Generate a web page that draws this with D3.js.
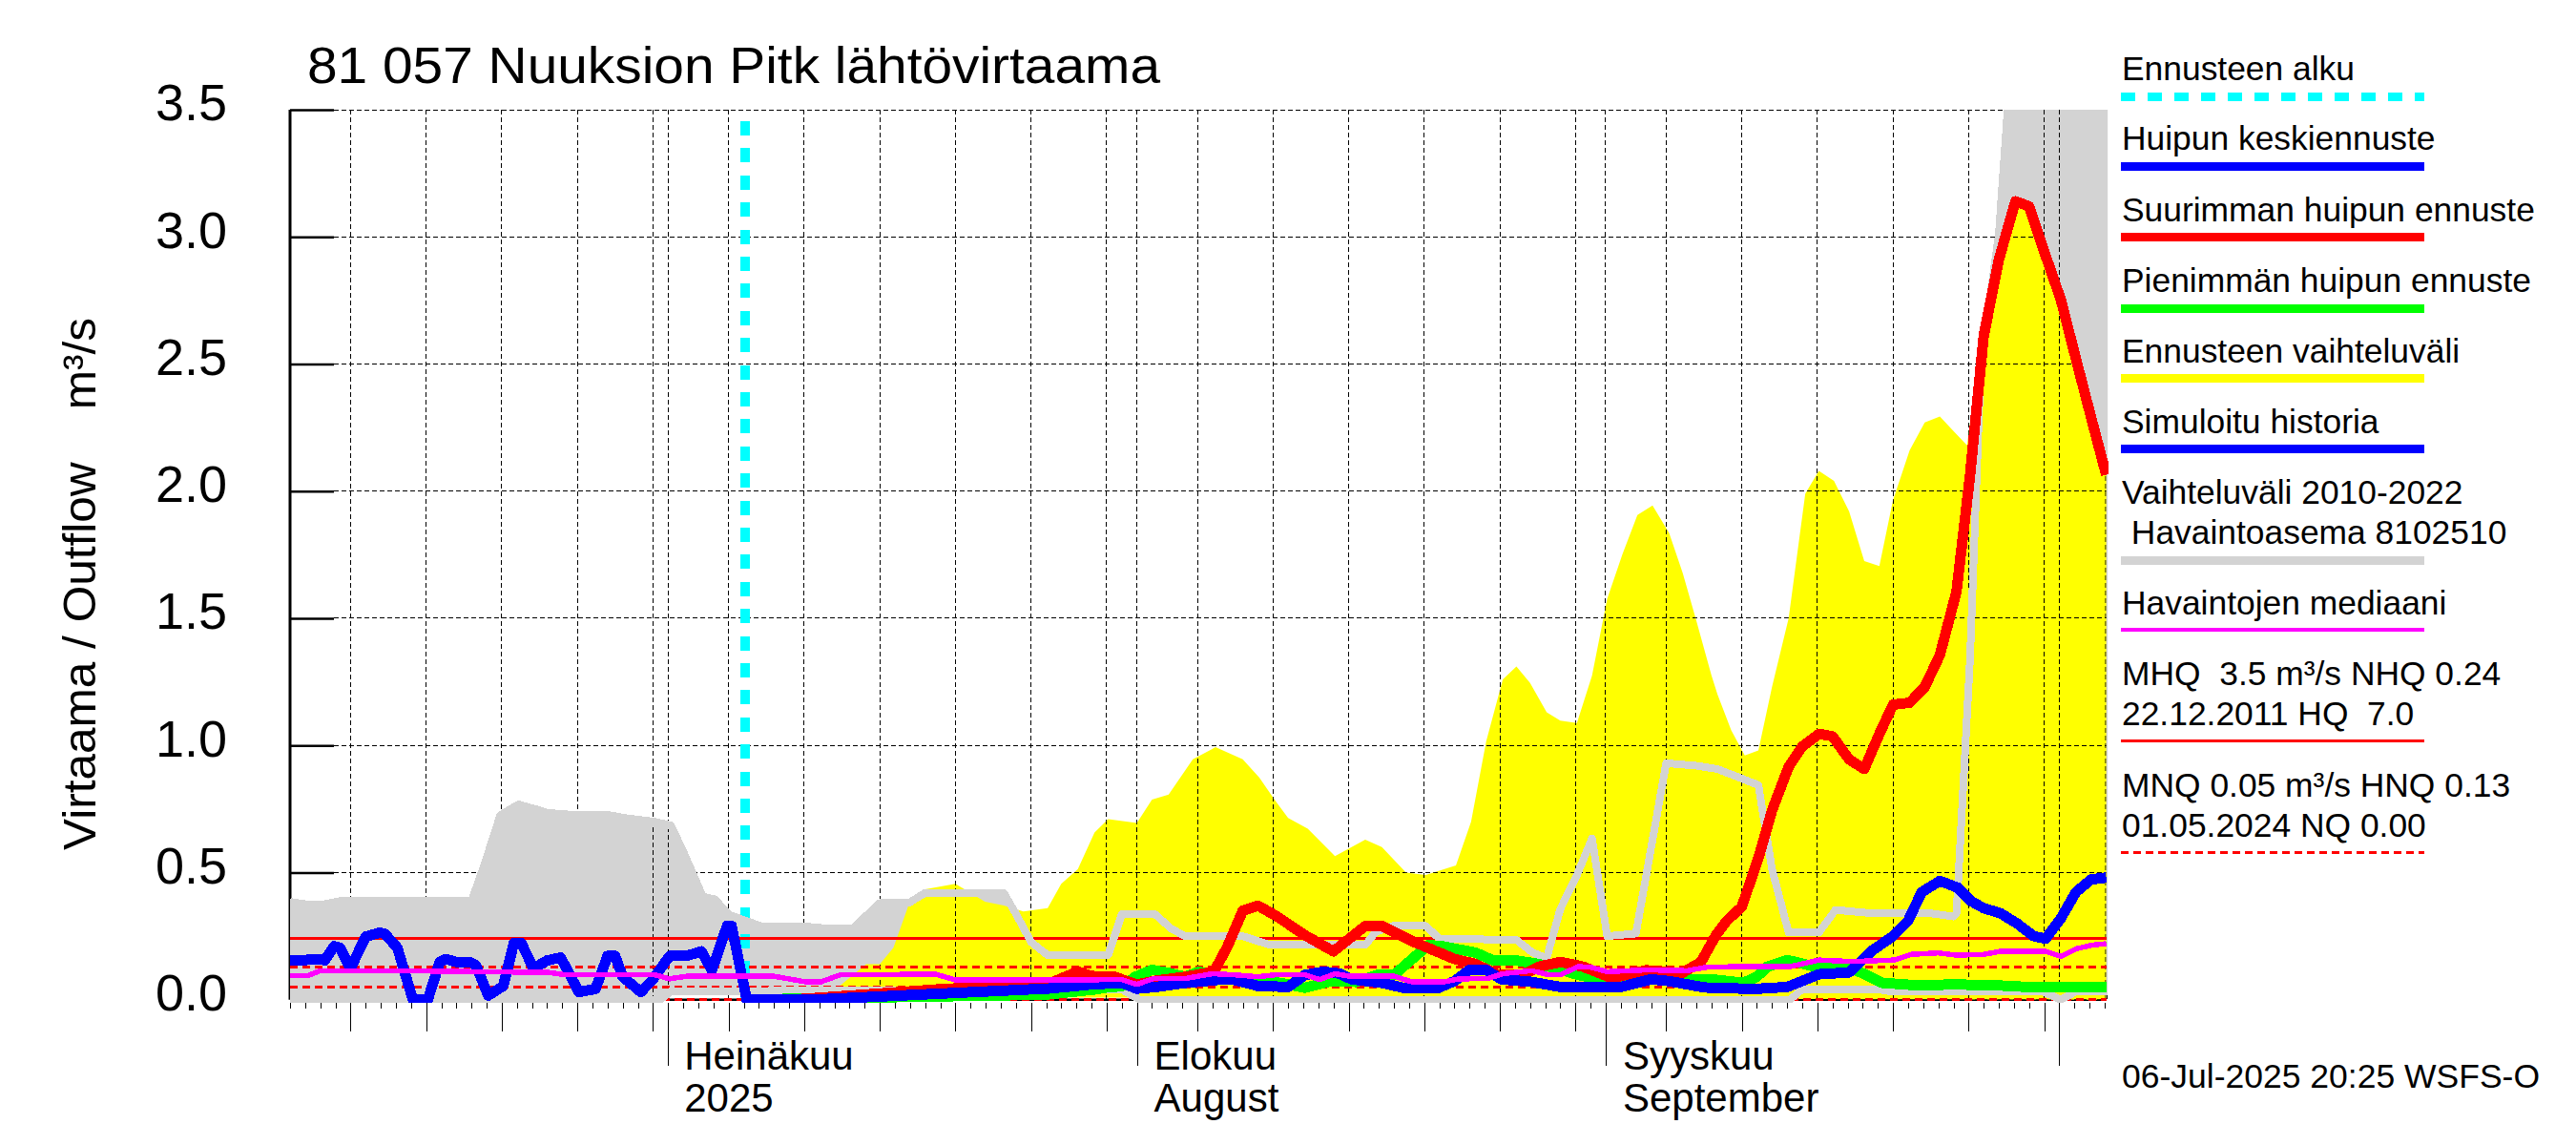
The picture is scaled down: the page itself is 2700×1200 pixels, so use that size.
<!DOCTYPE html>
<html>
<head>
<meta charset="utf-8">
<script src="https://cdnjs.cloudflare.com/ajax/libs/d3/7.8.5/d3.min.js"></script>
<style>
  body { margin: 0; background: white; }
  text { font-family: "Liberation Sans", Arial, sans-serif; fill: black; }
</style>
</head>
<body>
<script>
// days are counted from the first day on the axis (6 June 2025)
const firstDay = Date.UTC(2025, 5, 6);
const lastDay = Date.UTC(2025, 9, 4);

const yTicks = [0, 0.5, 1, 1.5, 2, 2.5, 3, 3.5];
const monthLabels = [
  ["Heinäkuu", "2025"],
  ["Elokuu", "August"],
  ["Syyskuu", "September"]
];
const monthDates = [Date.UTC(2025, 6, 1), Date.UTC(2025, 7, 1), Date.UTC(2025, 8, 1)];

const forecastStart = [30.1];
const nhq = [0.24];
const hnq = [0.13];
const mnq = [0.05];
const nq = [0];

const histMaxDays = [0,1.1,2.2,3.3,12,12.9,13.9,15.1,16.2,17,19.2,21.2,22.1,24.1,25.2,26.1,27.3,28.1,29,31.2,34.1,35.5,37.2,39,40.9,42,47.2,48.1,49,50.1,54.1,55,57.2,58.3,59.2,63,64.8,71.1,71.8,72.9,75.1,76,81.1,82.2,83.1,84,85.1,86.1,87.1,89,91,93,94.4,97.1,98,99.1,101.1,102.2,104.2,108.2,110,110.2,111.1,111.8,113,113.7,120.2];
const histMaxVals = [0.385,0.375,0.375,0.388,0.388,0.54,0.725,0.768,0.75,0.735,0.725,0.725,0.715,0.7,0.685,0.57,0.405,0.395,0.335,0.288,0.288,0.28,0.28,0.38,0.38,0.42,0.42,0.327,0.227,0.175,0.175,0.336,0.336,0.278,0.25,0.25,0.215,0.215,0.267,0.29,0.29,0.24,0.235,0.184,0.164,0.356,0.49,0.634,0.25,0.26,0.93,0.92,0.907,0.844,0.514,0.264,0.264,0.353,0.342,0.342,0.327,0.34,1.346,2.49,3.01,3.6,3.6];

const histMinDays = [0,24.5,25.2,55,56.2,99.2,100,105,105.9,115.9,117.1,118.1,120.2];
const histMinVals = [0,0,0.033,0.04,0,0,0.041,0.041,0.032,0.032,0,0.032,0.032];

const rangeTopDays = [36.2,38.1,39,39.9,40.8,41,42,44,45.95,47.2,48.5,50.1,51,52.1,53.2,54.1,56,57,58.1,59.7,61.2,63,64.1,65.1,66,67.3,69.1,71.1,72.2,73.8,75.1,77.1,78.1,79.1,80.2,81.1,82,83.1,84,85.1,86.1,87.1,88.1,89.1,90.1,91.2,92.1,93,94,94.4,95.3,96.2,97.1,98,99.1,100.2,101.1,102.1,103.1,104.1,105.1,106,107.1,108.1,109.1,110,110.9,111.8,112.1,113.2,114.1,115,116.1,117.1,118.1,119.1,120.1];
const rangeTopVals = [0.047,0.14,0.14,0.204,0.354,0.39,0.434,0.456,0.385,0.37,0.347,0.36,0.456,0.514,0.657,0.71,0.695,0.787,0.807,0.945,0.993,0.945,0.873,0.787,0.715,0.672,0.565,0.629,0.60,0.50,0.49,0.528,0.70,1.016,1.26,1.31,1.246,1.13,1.097,1.088,1.275,1.576,1.75,1.906,1.944,1.835,1.677,1.49,1.275,1.2,1.06,0.96,0.98,1.23,1.50,1.99,2.08,2.04,1.92,1.725,1.705,1.964,2.16,2.27,2.294,2.236,2.18,2.58,2.67,2.98,3.14,3.12,2.925,2.753,2.52,2.29,2.064];
const rangeLowDays = [36.2,38,120.1];
const rangeLowVals = [0.047,0.01,0];

const medianDays = [0,1.2,2,4.1,7,12.6,17.1,18.2,24.1,25.1,26.2,32,34.1,35.1,36.4,42.7,44,51.4,55,56,57.1,59.2,61,62.4,64,65.2,67.1,68.1,69.1,70.1,73,74.2,76.3,77.3,79.2,80.2,82.1,83.2,84,85.2,86,87.1,89.7,92.4,93.8,99.2,101.1,103.3,106.1,107.2,109,110.2,112,113.1,116.1,117.1,118.1,119.2,120.1];
const medianVals = [0.095,0.095,0.114,0.114,0.114,0.11,0.107,0.098,0.098,0.082,0.092,0.092,0.07,0.07,0.098,0.10,0.078,0.078,0.079,0.06,0.083,0.083,0.102,0.098,0.09,0.098,0.098,0.079,0.102,0.092,0.092,0.07,0.07,0.082,0.083,0.102,0.114,0.098,0.098,0.13,0.128,0.11,0.117,0.114,0.129,0.13,0.156,0.15,0.156,0.178,0.184,0.175,0.178,0.19,0.19,0.17,0.2,0.215,0.22];

const lowPeakDays = [30,50,53.2,53.9,55,55.9,57,58.1,59.2,60.1,62.4,65.5,67.1,68.8,70.5,71.9,73,74.2,75.3,76.2,78.4,79.5,81.2,82.6,83.9,85.2,86.6,88.3,90.3,92.4,94,96.1,97,97.7,99,100.9,102.9,104,105.3,107.7,110,113,115.5,120.1];
const lowPeakVals = [0,0.02,0.04,0.047,0.053,0.09,0.117,0.105,0.09,0.11,0.078,0.066,0.047,0.072,0.07,0.097,0.097,0.16,0.215,0.21,0.185,0.156,0.153,0.14,0.12,0.097,0.08,0.066,0.09,0.08,0.08,0.066,0.09,0.13,0.156,0.129,0.129,0.104,0.066,0.056,0.06,0.056,0.048,0.048];

const highPeakDays = [30,33.7,42.7,50.24,52.1,53,54.5,56,57.3,59.2,61.1,62,63,64,65.2,67.1,69,71.1,72.2,74.2,77,78.4,79.8,81.5,82.6,84,85.5,87.4,89.7,92,93.3,94.3,95,96,97.1,98,99.1,100,101.1,102,103.1,104.1,105.1,106,107.1,108.1,109.1,110.2,111.1,112,113,114.1,115,116.1,117.1,118.1,119.1,120.1];
const highPeakVals = [0,0.002,0.04,0.065,0.11,0.093,0.09,0.06,0.075,0.09,0.11,0.21,0.35,0.37,0.33,0.254,0.19,0.29,0.29,0.23,0.16,0.14,0.10,0.096,0.13,0.148,0.13,0.085,0.116,0.103,0.148,0.254,0.31,0.365,0.557,0.744,0.916,0.996,1.045,1.036,0.945,0.907,1.045,1.16,1.168,1.23,1.355,1.605,2.064,2.61,2.91,3.14,3.12,2.925,2.753,2.52,2.29,2.064];

const simDays = [0,1,2,2.3,2.9,3.3,4,5,5.9,6.25,7.1,8.1,9.1,9.9,10.3,11,11.9,12.3,13.1,14.1,14.8,15.3,16.1,17,17.9,19.1,20.2,21,21.5,22,23.2,24,25.1,26.2,27.2,27.9,28.9,29.2,30.2,34.6,42.7,50.24,53,55,56,57.3,59.2,61.4,62.4,64,66,67.1,68.3,69.4,70.2,72.2,73.6,75.9,77,78,79.1,80.1,82.1,84,88,90,91.2,93.5,96.8,99,101.1,103.1,104.6,106,107,107.9,109.1,110.3,111.1,112,113.1,114.2,115.3,116.1,117.1,118.1,119.1,120.1];
const simVals = [0.154,0.156,0.16,0.154,0.21,0.204,0.123,0.248,0.263,0.26,0.204,0.004,-0.002,0.148,0.16,0.148,0.148,0.135,0.016,0.054,0.222,0.222,0.123,0.154,0.166,0.03,0.042,0.172,0.172,0.09,0.03,0.08,0.172,0.172,0.19,0.116,0.29,0.29,0,0,0.023,0.044,0.06,0.066,0.043,0.05,0.066,0.078,0.078,0.054,0.05,0.097,0.11,0.103,0.08,0.066,0.047,0.045,0.073,0.117,0.117,0.08,0.07,0.05,0.05,0.08,0.073,0.048,0.042,0.05,0.1,0.107,0.192,0.25,0.31,0.423,0.467,0.44,0.39,0.36,0.34,0.30,0.25,0.24,0.32,0.423,0.473,0.48];

const legendLabels = [
  "Ennusteen alku", "Huipun keskiennuste", "Suurimman huipun ennuste",
  "Pienimmän huipun ennuste", "Ennusteen vaihteluväli", "Simuloitu historia",
  "Vaihteluväli 2010-2022", " Havaintoasema 8102510", "Havaintojen mediaani",
  "MHQ  3.5 m³/s NHQ 0.24", "22.12.2011 HQ  7.0",
  "MNQ 0.05 m³/s HNQ 0.13", "01.05.2024 NQ 0.00"
];

const svg = d3.select("body").append("svg")
  .attr("width", 2700)
  .attr("height", 1200);

const x = d3.scaleUtc().domain([firstDay, lastDay]).range([304, 2206]);
const y = d3.scaleLinear().domain([0, 3.5]).range([1047.7, 115]);
const dayX = d => x(firstDay + d * 864e5);
const zip = (days, vals) => days.map((d, i) => [d, vals[i]]);
const line = d3.line().x(d => dayX(d[0])).y(d => y(d[1]));

const allDays = d3.utcDays(firstDay, lastDay + 864e5);
const fiveDays = allDays.filter(d => d.getUTCDate() % 5 == 0);
const monthDays = allDays.filter(d => d.getUTCDate() == 1);
const rightEdge = 2208;
const plotBottom = 1051;

svg.append("clipPath").attr("id", "plot")
  .append("rect").attr("x", 304).attr("y", 115).attr("width", rightEdge - 304 + 2).attr("height", plotBottom - 115);

const area = d3.area().x(d => dayX(d[0])).y0(d => y(d[2])).y1(d => y(d[1]));

// gray band needs max and min on the same days
const histMinAt = d3.scaleLinear().domain(histMinDays).range(histMinVals);
const grayBand = histMaxDays.concat(histMinDays).sort(d3.ascending);
const histMaxAt = d3.scaleLinear().domain(histMaxDays).range(histMaxVals);
const grayPts = grayBand.map(d => [d, histMaxAt(d), histMinAt(d)]);

const rangeLowAt = d3.scaleLinear().domain(rangeLowDays).range(rangeLowVals);
const yellowPts = rangeTopDays.map((d, i) => [d, rangeTopVals[i], rangeLowAt(d)]);

svg.append("clipPath").attr("id", "yellowClip")
  .append("path").attr("d", area(yellowPts));

function drawHGrid(g) {
  g.selectAll("line.h").data(yTicks).enter().append("line").attr("class", "h")
    .attr("x1", 350).attr("x2", rightEdge)
    .attr("y1", d => y(d)).attr("y2", d => y(d))
    .attr("stroke", "black").attr("stroke-width", 1).attr("stroke-dasharray", "5 3")
    .attr("shape-rendering", "crispEdges");
}
function drawVGrid(g, dates) {
  g.selectAll("line.v").data(dates).enter().append("line").attr("class", "v")
    .attr("x1", d => x(d)).attr("x2", d => x(d))
    .attr("y1", 115).attr("y2", 1047)
    .attr("stroke", "black").attr("stroke-width", 1).attr("stroke-dasharray", "5 3")
    .attr("shape-rendering", "crispEdges");
}

// grid below the gray band
const grid1 = svg.append("g");
drawHGrid(grid1);
drawVGrid(grid1, fiveDays.concat(monthDays));
grid1.append("line")
  .attr("x1", rightEdge).attr("x2", rightEdge).attr("y1", 115).attr("y2", 1047)
  .attr("stroke", "black").attr("stroke-width", 1).attr("stroke-dasharray", "5 3")
  .attr("shape-rendering", "crispEdges");

// y axis
const yAxis = d3.axisLeft(y).tickValues(yTicks).tickSize(-46).tickPadding(66)
  .tickFormat(d3.format(".1f"));
const yg = svg.append("g").attr("transform", "translate(304,0)").call(yAxis);
yg.select(".domain").attr("stroke-width", 3).attr("d", "M0,115V1047.7");
yg.selectAll(".tick line").attr("stroke-width", 2.5);
yg.selectAll(".tick text").attr("font-size", 54).attr("dy", "0.2em")
  .style("font-family", "'Liberation Sans'");

// zero line
svg.append("line")
  .attr("x1", 304).attr("x2", rightEdge).attr("y1", y(nq[0])).attr("y2", y(nq[0]))
  .attr("stroke", "black").attr("stroke-width", 2.5);

const plot = svg.append("g").attr("clip-path", "url(#plot)");

plot.append("path").attr("d", area(grayPts)).attr("fill", "#d3d3d3");

// these boundary days show through the gray
const boundaryDays = allDays.filter(d => [30, 1].includes(d.getUTCDate()));
drawVGrid(plot.append("g"), boundaryDays);

plot.append("path").attr("d", area(yellowPts)).attr("fill", "#ffff00");

const grid2 = plot.append("g").attr("clip-path", "url(#yellowClip)");
drawHGrid(grid2);
drawVGrid(grid2, fiveDays.concat(monthDays));
grid2.append("line")
  .attr("x1", rightEdge - 1).attr("x2", rightEdge - 1).attr("y1", 115).attr("y2", 1047)
  .attr("stroke", "black").attr("stroke-width", 1).attr("stroke-dasharray", "5 3");

// forecast start
plot.append("line")
  .attr("x1", dayX(forecastStart[0])).attr("x2", dayX(forecastStart[0]))
  .attr("y1", 127).attr("y2", 1047)
  .attr("stroke", "#00ffff").attr("stroke-width", 10).attr("stroke-dasharray", "15 13.4")
  .attr("shape-rendering", "crispEdges");

// reference levels
function refLine(v, dash) {
  plot.append("line")
    .attr("x1", 304).attr("x2", rightEdge).attr("y1", y(v)).attr("y2", y(v))
    .attr("stroke", "#ff0000").attr("stroke-width", 3)
    .attr("stroke-dasharray", dash)
    .attr("shape-rendering", "crispEdges");
}
refLine(nhq[0], null);
refLine(hnq[0], "8 5");
refLine(mnq[0], "8 5");
refLine(nq[0], "8 5");

function drawLine(days, vals, color, w) {
  plot.append("path")
    .attr("d", line(zip(days, vals)))
    .attr("fill", "none")
    .attr("stroke", color)
    .attr("stroke-width", w)
    .attr("stroke-linejoin", "round")
    .attr("shape-rendering", "crispEdges");
}
drawLine(histMaxDays, histMaxVals, "#d3d3d3", 8);
drawLine(histMinDays, histMinVals, "#d3d3d3", 8);
drawLine(lowPeakDays, lowPeakVals, "#00ff00", 11);
drawLine(highPeakDays, highPeakVals, "#ff0000", 11);
drawLine(simDays, simVals, "#0000ff", 11);
drawLine(medianDays, medianVals, "#ff00ff", 5.5);

// x axis ticks: every day, every 5th day, month starts
function xTicks(dates, size) {
  const g = svg.append("g").attr("transform", "translate(0," + plotBottom + ")")
    .call(d3.axisBottom(x).tickValues(dates).tickSize(size).tickFormat(""));
  g.select(".domain").remove();
  g.selectAll(".tick line").attr("stroke-width", 1).attr("shape-rendering", "crispEdges");
}
xTicks(allDays, 6);
xTicks(fiveDays, 30);
xTicks(monthDays, 66);

// month labels
const monthG = svg.append("g").selectAll("g").data(monthLabels).enter().append("g")
  .attr("transform", (d, i) => "translate(" + (x(monthDates[i]) + (i == 0 ? 17 : 18)) + ",0)");
monthG.append("text").attr("y", 1121).attr("font-size", 42).text(d => d[0]);
monthG.append("text").attr("y", 1165).attr("font-size", 42).text(d => d[1]);

// title and axis label
svg.append("text").attr("x", 322).attr("y", 87).attr("font-size", 54)
  .attr("textLength", 894)
  .attr("lengthAdjust", "spacingAndGlyphs")
  .text("81 057 Nuuksion Pitk lähtövirtaama");
svg.append("text")
  .attr("transform", "translate(100,891) rotate(-90)")
  .attr("font-size", 48)
  .attr("textLength", 558)
  .attr("lengthAdjust", "spacingAndGlyphs")
  .style("white-space", "pre")
  .text("Virtaama / Outflow    m³/s");

// legend
const legendX = 2224;
const legendEnd = 2541;
const legendTextY = [84, 157, 232, 306, 380, 454, 528, 570, 644, 718, 760, 835, 877];
svg.append("g").selectAll("text").data(legendLabels).enter().append("text")
  .attr("x", legendX)
  .attr("y", (d, i) => legendTextY[i])
  .attr("font-size", 35.4)
  .style("white-space", "pre")
  .text(d => d);

const legendKeys = [
  { y: 101, color: "#00ffff", w: 9, dash: "15 13" },
  { y: 174.5, color: "#0000ff", w: 9 },
  { y: 248.7, color: "#ff0000", w: 9 },
  { y: 323, color: "#00ff00", w: 9 },
  { y: 396, color: "#ffff00", w: 9 },
  { y: 470, color: "#0000ff", w: 9 },
  { y: 587, color: "#d3d3d3", w: 9 },
  { y: 659.6, color: "#ff00ff", w: 4 },
  { y: 776.6, color: "#ff0000", w: 2.5 },
  { y: 893.7, color: "#ff0000", w: 2.5, dash: "8 5" }
];
svg.append("g").selectAll("line").data(legendKeys).enter().append("line")
  .attr("x1", legendX - 1).attr("x2", legendEnd)
  .attr("y1", d => d.y).attr("y2", d => d.y)
  .attr("stroke", d => d.color)
  .attr("stroke-width", d => d.w)
  .attr("stroke-dasharray", d => d.dash || null)
  .attr("shape-rendering", "crispEdges");

svg.append("text").attr("x", 2224).attr("y", 1140).attr("font-size", 35.5)
  .text("06-Jul-2025 20:25 WSFS-O");
</script>
</body>
</html>
